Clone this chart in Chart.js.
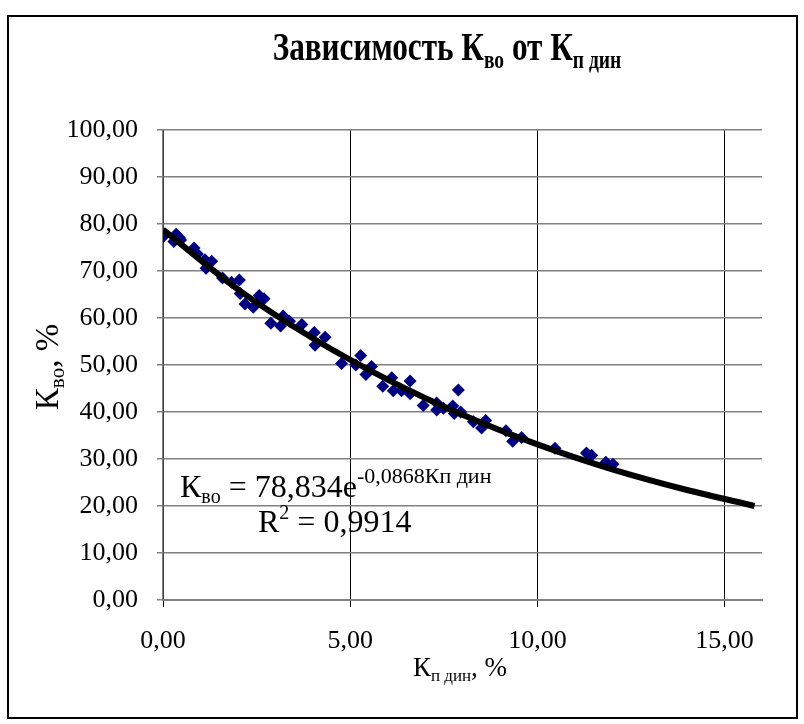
<!DOCTYPE html>
<html lang="ru">
<head>
<meta charset="utf-8">
<title>Зависимость Кво от Кп дин</title>
<script src="https://cdn.jsdelivr.net/npm/chart.js@4.4.0/dist/chart.umd.min.js"></script>
<style>
  html, body { margin: 0; padding: 0; background: #fff; }
  #wrap { position: relative; width: 804px; height: 724px; }
  #frame {
    position: absolute; left: 7px; top: 15px; width: 787px; height: 700px;
    border: 2px solid #000; pointer-events: none;
  }
  canvas { position: absolute; left: 0; top: 0; }
</style>
</head>
<body>
<div id="wrap">
  <canvas id="chart" width="804" height="724"></canvas>
  <div id="frame"></div>
</div>
<script>
// Кп дин, % — измеренные точки
const kpDin = [
  0.00, 0.29, 0.35, 0.44, 0.47, 0.83, 0.92, 1.12, 1.30, 1.15,
  1.59, 1.83, 2.04, 2.06, 2.19, 2.41, 2.57, 2.70, 2.88, 3.14,
  3.21, 3.38, 3.71, 4.04, 4.06, 4.33, 4.77, 5.15, 5.28, 5.42,
  5.57, 5.87, 6.11, 6.15, 6.37, 6.60, 6.60, 6.95, 7.31, 7.31,
  7.49, 7.74, 7.78, 7.89, 7.95, 8.29, 8.51, 8.62, 9.16, 9.34,
  9.58, 10.47, 11.31, 11.45, 11.83, 12.02,
];
// Кво, % — измеренные точки
const kvo = [
  77.3, 76.3, 77.8, 77.1, 76.6, 74.9, 73.6, 72.4, 72.1, 70.6,
  68.5, 67.6, 68.1, 65.2, 63.0, 62.3, 64.8, 64.1, 58.9, 58.3,
  60.4, 59.3, 58.6, 56.9, 54.2, 55.9, 50.3, 50.0, 52.0, 48.0,
  49.7, 45.5, 47.3, 44.5, 44.5, 46.6, 43.9, 41.4, 41.9, 40.4,
  40.8, 41.3, 39.7, 44.7, 40.0, 37.9, 36.6, 38.2, 36.0, 33.8,
  34.6, 32.3, 31.3, 30.8, 29.3, 28.9,
];
// линия тренда
const trendX = [0, 2, 4, 6, 8, 10, 12, 14, 15.8];
const trendY = [78.8, 66.1, 55.7, 46.9, 39.4, 33.1, 27.8, 23.4, 20.0];

const xTicks = [0, 5, 10, 15];
const yTicks = [0, 10, 20, 30, 40, 50, 60, 70, 80, 90, 100];

const SERIF = '"Liberation Serif", "Times New Roman", serif';
const fmt = (v) => Number(v).toFixed(2).replace(".", ",");

// рисует строку из кусков: {t, size, bold, dy}; sx — сжатие по горизонтали
function drawRuns(ctx, runs, x, y, align, sx = 1) {
  const font = (r) => `${r.bold ? "bold " : ""}${r.size}px ${SERIF}`;
  let total = 0;
  for (const r of runs) { ctx.font = font(r); total += ctx.measureText(r.t).width; }
  ctx.save();
  ctx.translate(x, y);
  ctx.scale(sx, 1);
  let cx = align === "center" ? -total / 2 : 0;
  ctx.textBaseline = "alphabetic";
  ctx.textAlign = "left";
  for (const r of runs) {
    ctx.font = font(r);
    ctx.fillText(r.t, cx, r.dy || 0);
    cx += ctx.measureText(r.t).width;
  }
  ctx.restore();
}

const textPlugin = {
  id: "texts",
  afterDraw(chart) {
    const ctx = chart.ctx;
    ctx.save();
    ctx.fillStyle = "#000";
    // заголовок (узкий жирный шрифт)
    drawRuns(ctx, [
      { t: "Зависимость К", size: 40, bold: true },
      { t: "во", size: 25, bold: true, dy: 8 },
      { t: " от К", size: 40, bold: true },
      { t: "п дин", size: 25, bold: true, dy: 8 },
    ], 447, 60, "center", 0.78);
    // подпись оси X
    drawRuns(ctx, [
      { t: "К", size: 27 },
      { t: "п дин", size: 17, dy: 5 },
      { t: ", %", size: 27 },
    ], 460, 676, "center");
    // подпись оси Y
    ctx.save();
    ctx.translate(58, 367);
    ctx.rotate(-Math.PI / 2);
    drawRuns(ctx, [
      { t: "К", size: 33 },
      { t: "во", size: 21, dy: 6 },
      { t: ", %", size: 33 },
    ], 0, 0, "center");
    ctx.restore();
    // уравнение тренда
    drawRuns(ctx, [
      { t: "К", size: 32 },
      { t: "во", size: 20, dy: 6 },
      { t: " = 78,834e", size: 32 },
      { t: "-0,0868Кп дин", size: 22, dy: -14 },
    ], 180, 497, "left");
    drawRuns(ctx, [
      { t: "R", size: 32 },
      { t: "2", size: 20, dy: -13 },
      { t: " = 0,9914", size: 32 },
    ], 258, 532, "left");
    ctx.restore();
  },
};

new Chart(document.getElementById("chart"), {
  type: "scatter",
  data: {
    datasets: [
      {
        label: "Кво",
        data: kpDin.map((x, i) => ({ x, y: kvo[i] })),
        pointStyle: "rectRot",
        pointRadius: 6.5,
        backgroundColor: "#000080",
        borderColor: "#000080",
        borderWidth: 0,
        order: 2,
      },
      {
        label: "тренд",
        type: "line",
        data: trendX.map((x, i) => ({ x, y: trendY[i] })),
        borderColor: "#000",
        borderWidth: 6,
        pointRadius: 0,
        cubicInterpolationMode: "monotone",
        fill: false,
        order: 1,
      },
    ],
  },
  options: {
    responsive: false,
    animation: false,
    events: [],
    layout: { padding: { left: 0, top: 130, right: 42, bottom: 0 } },
    plugins: { legend: { display: false }, tooltip: { enabled: false }, title: { display: false } },
    scales: {
      x: {
        type: "linear",
        min: 0,
        max: 16,
        afterBuildTicks: (s) => { s.ticks = xTicks.map((value) => ({ value })); },
        afterFit: (s) => { s.height = 124; },
        ticks: {
          callback: (v) => fmt(v),
          color: "#000",
          font: { family: SERIF, size: 26 },
          padding: 19,
          maxRotation: 0,
        },
        grid: { color: "#000", lineWidth: 1, tickLength: 7 },
        border: { color: "#808080", width: 2 },
      },
      y: {
        type: "linear",
        min: 0,
        max: 100,
        afterBuildTicks: (s) => { s.ticks = yTicks.map((value) => ({ value })); },
        afterFit: (s) => { s.width = 163; },
        ticks: {
          callback: (v) => fmt(v),
          color: "#000",
          font: { family: SERIF, size: 26 },
          padding: 19,
        },
        grid: { color: "#808080", lineWidth: 1.5, tickLength: 6 },
        border: { color: "#808080", width: 1.5 },
      },
    },
  },
  plugins: [textPlugin],
});
</script>
</body>
</html>
